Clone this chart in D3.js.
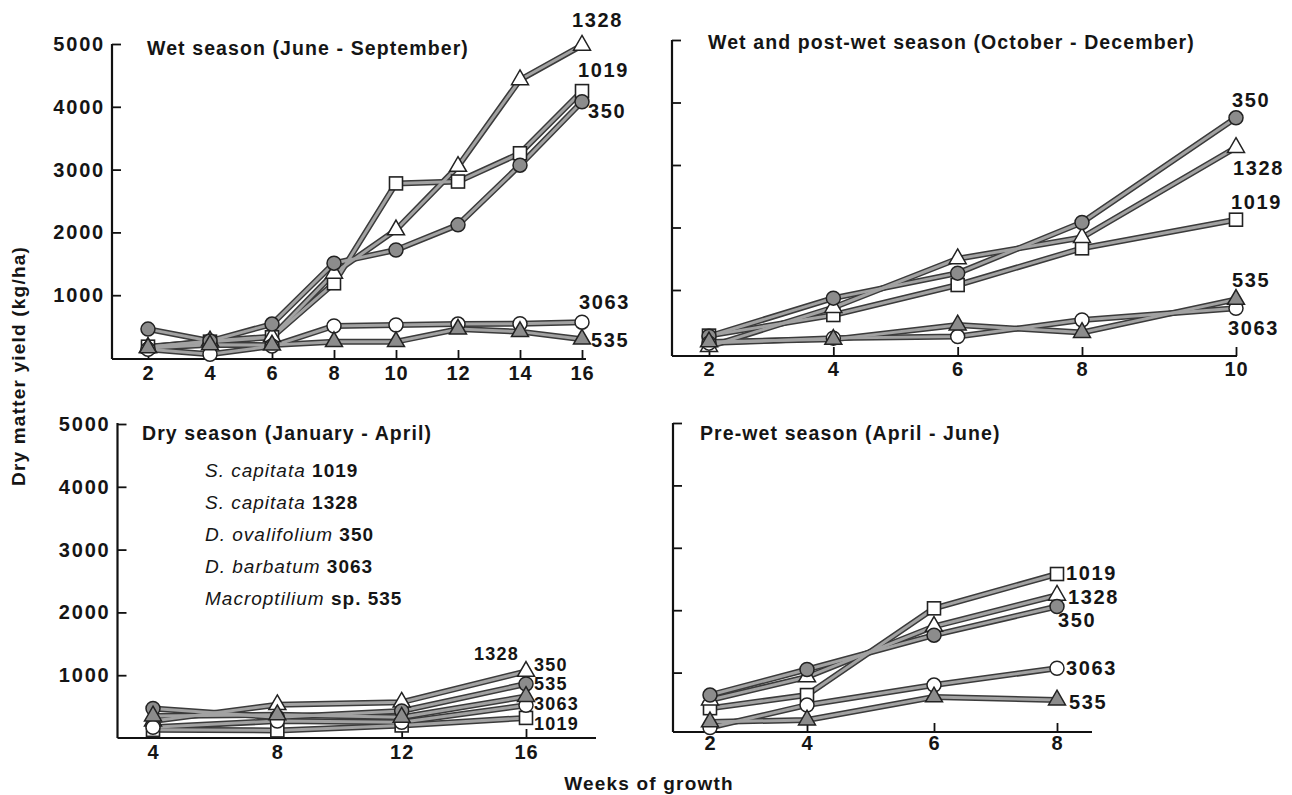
<!DOCTYPE html>
<html><head><meta charset="utf-8">
<script src="https://cdn.jsdelivr.net/npm/d3@7"></script>
<style>
html,body{margin:0;padding:0;background:#fff;}
svg{display:block;}
text{font-family:"Liberation Sans",Arial,Helvetica,sans-serif;fill:#151515;}
</style></head><body>
<svg id="chart" width="1292" height="795"></svg>
<script>
// ---------------- DATA ----------------
const seriesIds = ["1019","1328","350","3063","535"];
const legendSpecies = ["S. capitata","S. capitata","D. ovalifolium","D. barbatum","Macroptilium"];
const legendSuffix = ["1019","1328","350","3063","sp. 535"];
const yTicks = [1000,2000,3000,4000,5000];

const wetWeeks = [2,4,6,8,10,12,14,16];
const wet1019 = [180,260,330,1190,2780,2810,3260,4250];
const wet1328 = [170,270,340,1350,2040,3050,4430,4980];
const wet350  = [460,270,540,1510,1720,2120,3070,4080];
const wet3063 = [140,60,190,510,525,540,545,570];
const wet535  = [160,210,205,260,260,460,420,300];

const postWeeks = [2,4,6,8,10];
const post1019 = [270,600,1080,1667,2125];
const post1328 = [95,720,1500,1840,3280];
const post350  = [260,870,1270,2080,3755];
const post3063 = [150,230,255,520,707];
const post535  = [170,210,440,320,850];

const dryWeeks = [4,8,12,16];
const dry1019 = [130,120,200,320];
const dry1328 = [270,530,570,1060];
const dry350  = [470,330,430,860];
const dry3063 = [170,270,250,520];
const dry535  = [350,370,330,660];

const preWeeks = [2,4,6,8];
const pre1019 = [430,640,2030,2580];
const pre1328 = [560,930,1740,2240];
const pre350  = [640,1050,1600,2060];
const pre3063 = [120,480,800,1070];
const pre535  = [210,240,610,560];

// ---------------- LAYOUT ----------------
const svg = d3.select("#chart");
const FONT = 19.5;

const panels = [
  { title:"Wet season (June - September)", weeks:wetWeeks,
    values:[wet1019,wet1328,wet350,wet3063,wet535],
    x:d3.scaleLinear().domain([2,16]).range([148,582]),
    y:d3.scaleLinear().domain([0,5000]).range([358,44]),
    axX:112, axY:359, axTop:44, axRight:586, labels:true,
    titlePos:[147,48], tickLabY:373, endSize:20,
    ends:{"1328":[572,20],"1019":[578,70],"350":[588,111],"3063":[579,302],"535":[591,340]} },
  { title:"Wet and post-wet season (October - December)", weeks:postWeeks,
    values:[post1019,post1328,post350,post3063,post535],
    x:d3.scaleLinear().domain([2,8,10]).range([709,1082,1236]),
    y:d3.scaleLinear().domain([0,5000]).range([352.5,40]),
    axX:672, axY:356, axTop:40, axRight:1237, labels:false,
    titlePos:[708,42], tickLabY:369, endSize:20,
    ends:{"350":[1232,100],"1328":[1233,168],"1019":[1231,202],"535":[1232,280],"3063":[1228,328]} },
  { title:"Dry season (January - April)", weeks:dryWeeks,
    values:[dry1019,dry1328,dry350,dry3063,dry535],
    x:d3.scaleLinear().domain([4,16]).range([153,526]),
    y:d3.scaleLinear().domain([0,5000]).range([738,424]),
    axX:117.5, axY:738, axTop:423, axRight:596, labels:true,
    titlePos:[142,433], tickLabY:752, endSize:18,
    ends:{"1328":[474,654],"350":[534,665],"535":[534,684],"3063":[534,704],"1019":[534,724]} },
  { title:"Pre-wet season (April - June)", weeks:preWeeks,
    values:[pre1019,pre1328,pre350,pre3063,pre535],
    x:d3.scaleLinear().domain([2,4,6,8]).range([710,807,934,1057]),
    y:d3.scaleLinear().domain([0,5000]).range([735,423]),
    axX:673, axY:732, axTop:423, axRight:1092, labels:false,
    titlePos:[700,433], tickLabY:743, endSize:20,
    ends:{"1019":[1066,573],"1328":[1068,597],"350":[1058,620],"3063":[1066,668],"535":[1069,702]} }
];

function marker(g, id, cx, cy){
  const dark = "#222", gray = "#8c8c8c";
  if (id === "1019") {
    g.append("rect").attr("x",cx-6.5).attr("y",cy-6.5).attr("width",13).attr("height",13)
      .attr("fill","#fff").attr("stroke",dark).attr("stroke-width",1.6);
  } else if (id === "1328" || id === "535") {
    g.append("path").attr("d", d3.symbol(d3.symbolTriangle, 125)())
      .attr("transform",`translate(${cx},${cy})`)
      .attr("fill", id==="1328" ? "#fff" : gray).attr("stroke",dark).attr("stroke-width",1.5);
  } else {
    g.append("circle").attr("cx",cx).attr("cy",cy).attr("r",7)
      .attr("fill", id==="350" ? gray : "#fff").attr("stroke",dark).attr("stroke-width",1.5);
  }
}

panels.forEach(p => {
  const g = svg.append("g");
  // y axis
  const ya = d3.axisLeft(p.y).tickValues(yTicks).tickSizeInner(-9).tickSizeOuter(0).tickPadding(7)
    .tickFormat(p.labels ? d3.format("d") : () => "");
  const yg = g.append("g").attr("transform",`translate(${p.axX},0)`).call(ya);
  yg.select(".domain").remove();
  yg.selectAll(".tick line").attr("stroke","#111").attr("stroke-width",1.8);
  yg.selectAll(".tick text").style("font-size","20px").style("font-weight","bold")
    .style("letter-spacing","1.8px").attr("fill","#151515");
  g.append("line").attr("x1",p.axX).attr("x2",p.axX).attr("y1",p.axTop).attr("y2",p.axY)
    .attr("stroke","#111").attr("stroke-width",2.2);
  // x axis
  const xa = d3.axisBottom(p.x).tickValues(p.weeks).tickSizeInner(-9).tickSizeOuter(0).tickPadding(0)
    .tickFormat(d3.format("d"));
  const xg = g.append("g").attr("transform",`translate(0,${p.axY})`).call(xa);
  xg.select(".domain").remove();
  xg.selectAll(".tick line").attr("stroke","#111").attr("stroke-width",1.8);
  xg.selectAll(".tick text").attr("y", p.tickLabY - p.axY + 7).attr("dy",null)
    .style("font-size","20px").style("font-weight","bold").style("letter-spacing","1px").attr("fill","#151515");
  g.append("line").attr("x1",p.axX).attr("x2",p.axRight).attr("y1",p.axY).attr("y2",p.axY)
    .attr("stroke","#111").attr("stroke-width",2.2);
  // title
  g.append("text").attr("x",p.titlePos[0]).attr("y",p.titlePos[1]+7)
    .style("font-size",FONT+"px").style("font-weight","bold").style("letter-spacing","1.1px")
    .text(p.title);
  // lines
  const line = d3.line().x((d,i)=>p.x(p.weeks[i])).y(d=>p.y(d));
  p.values.forEach(vals => {
    g.append("path").attr("d",line(vals)).attr("fill","none").attr("stroke","#3b3b3b")
      .attr("stroke-width",6).attr("stroke-linejoin","round");
  });
  p.values.forEach(vals => {
    g.append("path").attr("d",line(vals)).attr("fill","none").attr("stroke","#a2a2a2")
      .attr("stroke-width",3).attr("stroke-linejoin","round");
  });
  // markers
  p.values.forEach((vals,si) => {
    vals.forEach((v,i) => marker(g, seriesIds[si], p.x(p.weeks[i]), p.y(v)));
  });
  // end labels
  seriesIds.forEach(id => {
    const pos = p.ends[id];
    g.append("text").attr("x",pos[0]).attr("y",pos[1] + p.endSize*0.35)
      .style("font-size",p.endSize+"px").style("font-weight","bold")
      .style("letter-spacing",(p.endSize>19?1.6:1.2)+"px")
      .text(id);
  });
});

// legend (in dry season panel)
const lg = svg.append("g");
legendSpecies.forEach((sp,i) => {
  const t = lg.append("text").attr("x",205).attr("y",470 + i*32 + 7)
    .style("font-size","19px").style("letter-spacing","1px");
  t.append("tspan").style("font-style","italic").text(sp + " ");
  t.append("tspan").style("font-weight","bold").text(legendSuffix[i]);
});

// axis titles
svg.append("text").attr("transform","translate(25,366) rotate(-90)").attr("text-anchor","middle")
  .style("font-size","19px").style("font-weight","bold").style("letter-spacing","1.2px")
  .text("Dry matter yield (kg/ha)");
svg.append("text").attr("x",649).attr("y",790).attr("text-anchor","middle")
  .style("font-size","19px").style("font-weight","bold").style("letter-spacing","1.2px")
  .text("Weeks of growth");
</script>
</body></html>
